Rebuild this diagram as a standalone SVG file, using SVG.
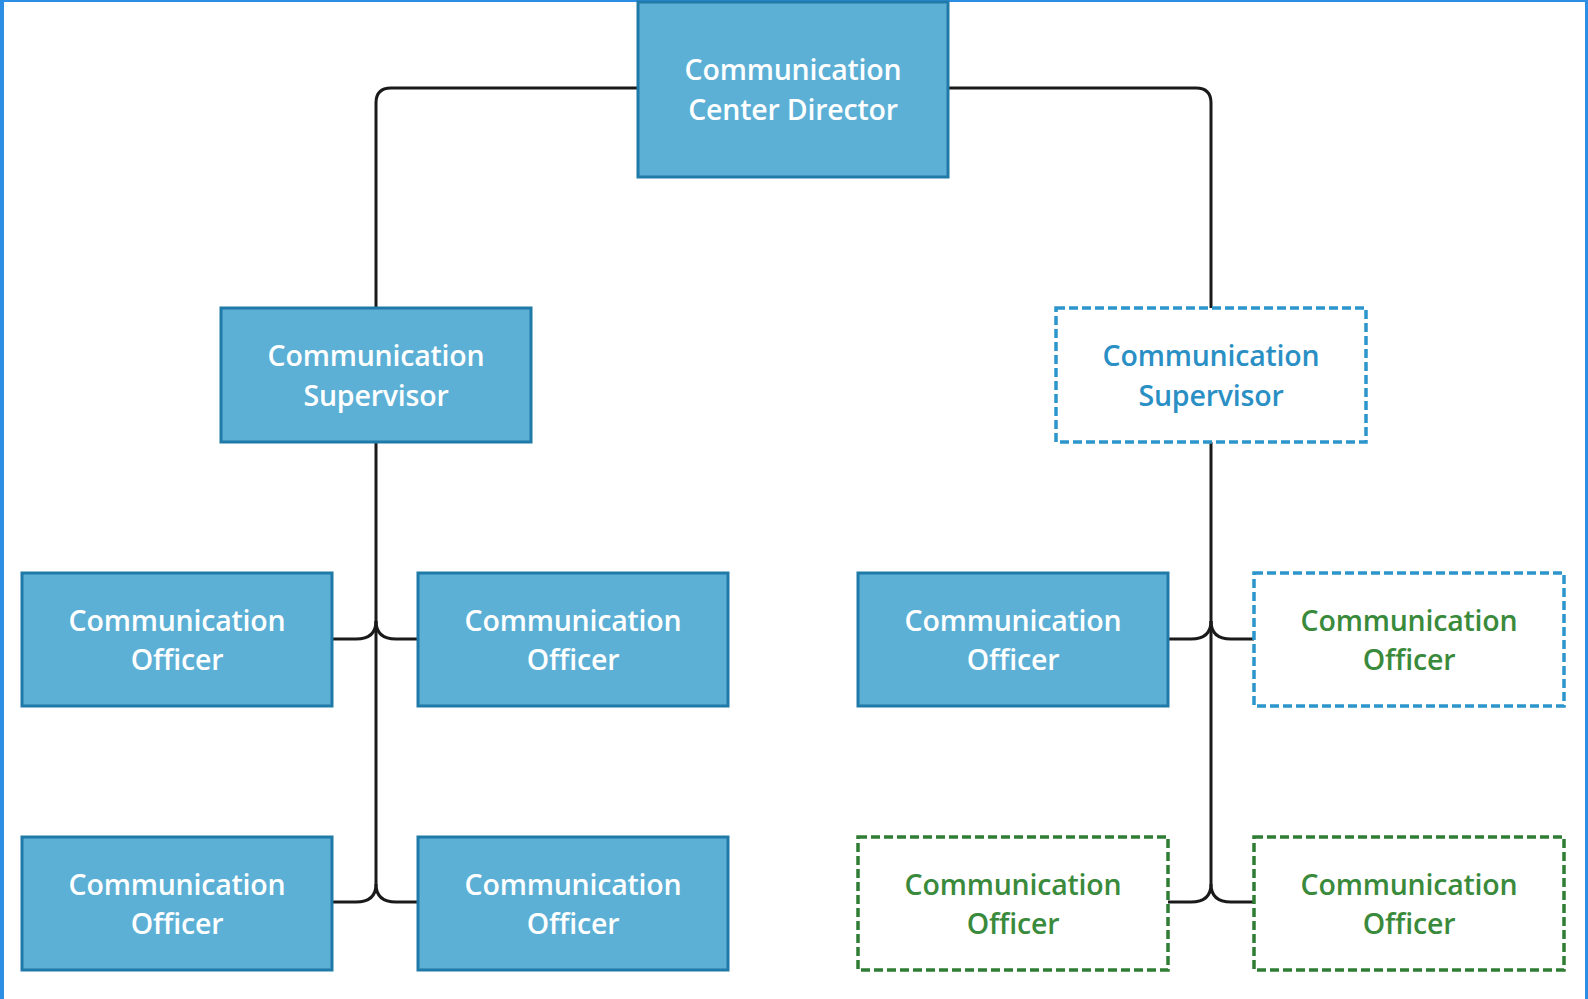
<svg xmlns="http://www.w3.org/2000/svg" width="1588" height="999" viewBox="0 0 1588 999">
<style>
.solid{fill:#5cb0d6;stroke:#1f7aa8;stroke-width:3}
.dblue{fill:#fff;stroke:#2b95cc;stroke-width:3.5;stroke-dasharray:9 4}
.dgreen{fill:#fff;stroke:#2f7d35;stroke-width:3.5;stroke-dasharray:9 4}
text{font-family:"Open Sans","Noto Sans","Liberation Sans",sans-serif;font-weight:600;font-size:28.5px;letter-spacing:-0.2px;text-anchor:middle}
.tw{fill:#ffffff}
.tb{fill:#2a8fc4}
.tg{fill:#3a8a3c}
.conn path{fill:none;stroke:#1a1a1a;stroke-width:3}
</style>
<rect x="0" y="0" width="1588" height="999" fill="#fff"/>
<rect x="0" y="0" width="4" height="999" fill="#2d8ee6"/>
<rect x="0" y="0" width="1588" height="2" fill="#2d8ee6"/>
<rect x="1585" y="0" width="3" height="999" fill="#2d8ee6"/>
<g class="conn" id="connectors">
<path d="M638 88 H391 Q376 88 376 103 V308"/>
<path d="M948 88 H1196 Q1211 88 1211 103 V308"/>
<path d="M376 442 V884"/>
<path d="M332 639 H356 C369 639 376 633 376 621"/>
<path d="M418 639 H396 C383 639 376 633 376 621"/>
<path d="M332 902 H356 C369 902 376 896 376 884"/>
<path d="M418 902 H396 C383 902 376 896 376 884"/>
<path d="M1211 442 V884"/>
<path d="M1168 639 H1191 C1204 639 1211 633 1211 621"/>
<path d="M1254 639 H1231 C1218 639 1211 633 1211 621"/>
<path d="M1168 902 H1191 C1204 902 1211 896 1211 884"/>
<path d="M1254 902 H1231 C1218 902 1211 896 1211 884"/>
</g>
<g id="director">
<rect class="solid" x="638" y="2" width="310" height="175"/>
<text class="tw" x="793" y="80">Communication</text>
<text class="tw" x="793" y="119.5">Center Director</text>
</g>
<g id="supervisor-left">
<rect class="solid" x="221" y="308" width="310" height="134"/>
<text class="tw" x="376" y="366">Communication</text>
<text class="tw" x="376" y="405.5">Supervisor</text>
</g>
<g id="supervisor-right">
<rect class="dblue" x="1056" y="308" width="310" height="134"/>
<text class="tb" x="1211" y="366">Communication</text>
<text class="tb" x="1211" y="405.5">Supervisor</text>
</g>
<g id="officer-1">
<rect class="solid" x="22" y="573" width="310" height="133"/>
<text class="tw" x="177" y="630.5">Communication</text>
<text class="tw" x="177" y="670">Officer</text>
</g>
<g id="officer-2">
<rect class="solid" x="418" y="573" width="310" height="133"/>
<text class="tw" x="573" y="630.5">Communication</text>
<text class="tw" x="573" y="670">Officer</text>
</g>
<g id="officer-3">
<rect class="solid" x="22" y="837" width="310" height="133"/>
<text class="tw" x="177" y="894.5">Communication</text>
<text class="tw" x="177" y="934">Officer</text>
</g>
<g id="officer-4">
<rect class="solid" x="418" y="837" width="310" height="133"/>
<text class="tw" x="573" y="894.5">Communication</text>
<text class="tw" x="573" y="934">Officer</text>
</g>
<g id="officer-5">
<rect class="solid" x="858" y="573" width="310" height="133"/>
<text class="tw" x="1013" y="630.5">Communication</text>
<text class="tw" x="1013" y="670">Officer</text>
</g>
<g id="officer-6">
<rect class="dblue" x="1254" y="573" width="310" height="133"/>
<text class="tg" x="1409" y="630.5">Communication</text>
<text class="tg" x="1409" y="670">Officer</text>
</g>
<g id="officer-7">
<rect class="dgreen" x="858" y="837" width="310" height="133"/>
<text class="tg" x="1013" y="894.5">Communication</text>
<text class="tg" x="1013" y="934">Officer</text>
</g>
<g id="officer-8">
<rect class="dgreen" x="1254" y="837" width="310" height="133"/>
<text class="tg" x="1409" y="894.5">Communication</text>
<text class="tg" x="1409" y="934">Officer</text>
</g>
</svg>
